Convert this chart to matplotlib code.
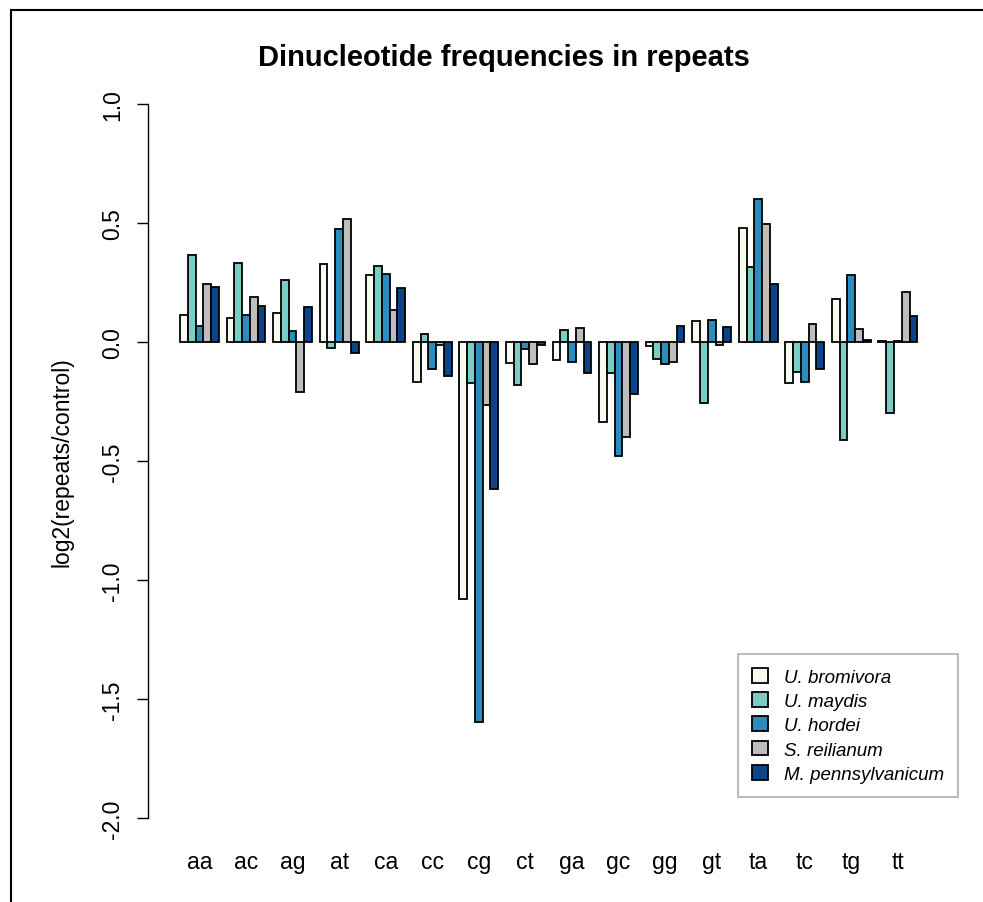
import matplotlib
matplotlib.use("Agg")
import matplotlib.pyplot as plt
from matplotlib.patches import Patch
from matplotlib.lines import Line2D
import numpy as np

plt.rcParams['font.family'] = ['Liberation Sans', 'DejaVu Sans']

dinucleotides = ["aa", "ac", "ag", "at", "ca", "cc", "cg", "ct",
                 "ga", "gc", "gg", "gt", "ta", "tc", "tg", "tt"]
species = ["U. bromivora", "U. maydis", "U. hordei", "S. reilianum", "M. pennsylvanicum"]
colors = ["#F7FCF0", "#7BCCC4", "#2B8CBE", "#BDBDBD", "#0A4589"]

u_bromivora = [0.115, 0.102, 0.123, 0.329, 0.281, -0.168, -1.079, -0.087,
               -0.076, -0.336, -0.018, 0.088, 0.479, -0.172, 0.179, 0.004]
u_maydis = [0.367, 0.333, 0.260, -0.024, 0.318, 0.035, -0.171, -0.182,
            0.049, -0.130, -0.070, -0.255, 0.315, -0.125, -0.413, -0.297]
u_hordei = [0.066, 0.112, 0.045, 0.473, 0.287, -0.112, -1.595, -0.031,
            -0.084, -0.479, -0.093, 0.094, 0.600, -0.168, 0.281, 0.003]
s_reilianum = [0.242, 0.188, -0.210, 0.515, 0.133, -0.014, -0.266, -0.093,
               0.057, -0.398, -0.084, -0.011, 0.496, 0.076, 0.053, 0.210]
m_pennsylvanicum = [0.232, 0.150, 0.147, -0.045, 0.228, -0.142, -0.619, -0.014,
                    -0.132, -0.217, 0.066, 0.061, 0.242, -0.114, 0.007, 0.110]

series = [u_bromivora, u_maydis, u_hordei, s_reilianum, m_pennsylvanicum]
yticks = [-2.0, -1.5, -1.0, -0.5, 0.0, 0.5, 1.0]

W, H = 983, 903
fig = plt.figure(figsize=(W / 100, H / 100), dpi=100)
ax_left, ax_right, ax_top, ax_bottom = 148, 947, 76.4, 847.6
ax = fig.add_axes([ax_left / W, 1 - ax_bottom / H, (ax_right - ax_left) / W, (ax_bottom - ax_top) / H])

ngroups = len(dinucleotides)
nser = len(series)
group_left = 1 + np.arange(ngroups) * (nser + 1)
for j, (vals, col) in enumerate(zip(series, colors)):
    ax.bar(group_left + j + 0.5, vals, width=1.0, color=col, edgecolor="black",
           linewidth=1.3, label=species[j])

px_per_unit = (917.3 - 180.0) / 95.0
ax.set_xlim(1 - (180.0 - ax_left) / px_per_unit, 96 + (ax_right - 917.3) / px_per_unit)
ax.set_ylim(-2.12, 1.12)

for s in ["top", "right", "bottom"]:
    ax.spines[s].set_visible(False)
ax.spines["left"].set_bounds(-2.0, 1.0)
ax.spines["left"].set_linewidth(1.0)
ax.set_yticks(yticks)
ax.set_yticklabels([f"{v:.1f}" for v in yticks], rotation=90,
                   va="center", fontsize=16.5)
ax.tick_params(axis="y", length=8, width=1.0, pad=9.4)
ax.set_xticks(group_left + nser / 2)
ax.set_xticklabels(dinucleotides, fontsize=16.5)
ax.tick_params(axis="x", length=0, pad=2.4)

fig.text(504 / W, 1 - 58 / H, "Dinucleotide frequencies in repeats", ha="center", va="center",
         fontsize=21, fontweight="bold")
fig.text(62 / W, 1 - 462 / H, "log2(repeats/control)", rotation=90, ha="center", va="center",
         fontsize=16.5)

handles = [Patch(facecolor=c, edgecolor="black", linewidth=1.3) for c in colors]
leg = fig.legend(handles, species, loc="upper left", bbox_to_anchor=(738 / W, 1 - 655 / H),
                 borderaxespad=0, fancybox=False, frameon=True, prop={"style": "italic", "size": 13.5},
                 handlelength=0.85, handleheight=0.85, handletextpad=0.85, labelspacing=0.33,
                 borderpad=0.75)
leg.get_frame().set_edgecolor("#AAAAAA")
leg.get_frame().set_linewidth(1.5)

fig.add_artist(Line2D([11 / W, 1], [1 - 11 / H, 1 - 11 / H], color="black", linewidth=1.5))
fig.add_artist(Line2D([11 / W, 11 / W], [0, 1 - 11 / H], color="black", linewidth=1.5))

fig.savefig("out.png", dpi=100)
